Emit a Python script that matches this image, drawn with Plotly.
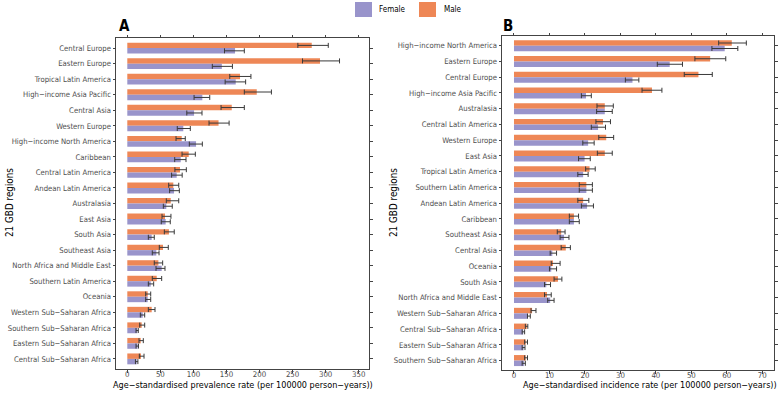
import plotly.graph_objects as go

# ---------------- Panel A: prevalence ----------------
regions_a = ["Central Europe", "Eastern Europe", "Tropical Latin America", "High−income Asia Pacific",
             "Central Asia", "Western Europe", "High−income North America", "Caribbean",
             "Central Latin America", "Andean Latin America", "Australasia", "East Asia", "South Asia",
             "Southeast Asia", "North Africa and Middle East", "Southern Latin America", "Oceania",
             "Western Sub−Saharan Africa", "Southern Sub−Saharan Africa", "Eastern Sub−Saharan Africa",
             "Central Sub−Saharan Africa"]
male_a = [279, 291.5, 170.5, 195.8, 158, 138, 82.3, 92.9, 79.7, 69.6, 65.7, 57, 63, 54, 47, 44.5, 30.9, 36.9, 21.8, 20.3, 20.7]
male_a_lo = [258, 265, 155, 177, 141.8, 123.6, 73.7, 82.8, 72, 62.6, 59, 52.5, 56, 48.4, 40.8, 37.8, 27.8, 31.8, 18.8, 17.7, 18.2]
male_a_hi = [304, 321, 187, 218, 177, 154, 87.7, 102.9, 89.3, 77.8, 77.8, 66, 71, 62, 53.5, 52, 35.4, 41.9, 26.3, 24.2, 25.3]
female_a = [163, 143, 164, 113.5, 101, 84.7, 104, 80.8, 74.7, 70.7, 59, 58, 36.9, 43.9, 52, 35.4, 30.9, 23.3, 15.1, 15.6, 14.2]
female_a_lo = [147, 128.6, 148, 101, 90, 75.6, 93.8, 71.7, 67, 64, 54.5, 51.4, 31.8, 37.8, 43.4, 31.8, 27.8, 19.7, 13.2, 13.2, 12.3]
female_a_hi = [177, 159, 179, 124.7, 113, 95.3, 113.5, 88.8, 83, 78.7, 68, 65, 40.8, 48, 57, 39.9, 35.4, 26.3, 16.6, 17, 16]

# ---------------- Panel B: incidence ----------------
regions_b = ["High−income North America", "Eastern Europe", "Central Europe", "High−income Asia Pacific",
             "Australasia", "Central Latin America", "Western Europe", "East Asia", "Tropical Latin America",
             "Southern Latin America", "Andean Latin America", "Caribbean", "Southeast Asia", "Central Asia",
             "Oceania", "South Asia", "North Africa and Middle East", "Western Sub−Saharan Africa",
             "Central Sub−Saharan Africa", "Eastern Sub−Saharan Africa", "Southern Sub−Saharan Africa"]
male_b = [61.4, 55.3, 52, 38.9, 25.6, 25.1, 26, 25.6, 21.3, 20.4, 19.5, 16.9, 13.3, 14.6, 11, 12.4, 9.3, 5.1, 3.6, 3.3, 3.3]
male_b_lo = [57.7, 51, 48, 36.1, 23.4, 23.1, 23.9, 23.5, 20.2, 18.4, 18, 15.6, 12.2, 13.3, 10.5, 11.3, 8.6, 4.8, 3.2, 3.0, 3.0]
male_b_hi = [65.5, 59.7, 55.9, 41.7, 28, 27.2, 28.1, 27.7, 22.9, 22.1, 21.1, 18.2, 14.4, 15.9, 13, 13.5, 10.5, 6.2, 3.9, 3.8, 3.8]
female_b = [59.4, 43.9, 33.4, 20.3, 25.6, 23.7, 20.9, 19.9, 19.5, 20.4, 20.6, 16.9, 14.1, 10.8, 10.5, 9.1, 10.2, 3.9, 2.6, 2.7, 2.8]
female_b_lo = [55.8, 40.4, 31.4, 19, 23.3, 21.8, 19.4, 18.2, 18, 18.4, 19, 15.6, 13, 10.2, 10, 8.6, 9.5, 3.8, 2.3, 2.3, 2.3]
female_b_hi = [63.1, 47.5, 35.2, 21.8, 27.7, 25.8, 22.6, 21.5, 20.9, 22.1, 22.4, 18.4, 15.5, 12, 12, 10.3, 11.3, 4.6, 3.0, 3.1, 3.2]

ticks_a = [0, 50, 100, 150, 200, 250, 300, 350]
ticks_b = [0, 10, 20, 30, 40, 50, 60, 70]

MALE = "#EE8756"
FEMALE = "#9994CB"
ERR = "#3a3a3a"
FONT = "DejaVu Sans Condensed, Liberation Sans, Arial, sans-serif"

fig = go.Figure()


def add_pair(regions, m, mlo, mhi, f, flo, fhi, xa, ya):
    fig.add_trace(go.Bar(
        y=regions, x=m, orientation="h", name="Male", marker_color=MALE, marker_line_width=0,
        error_x=dict(type="data", array=[h - v for h, v in zip(mhi, m)],
                     arrayminus=[v - l for l, v in zip(mlo, m)],
                     color=ERR, thickness=1, width=2.5),
        xaxis=xa, yaxis=ya, showlegend=False))
    fig.add_trace(go.Bar(
        y=regions, x=f, orientation="h", name="Female", marker_color=FEMALE, marker_line_width=0,
        error_x=dict(type="data", array=[h - v for h, v in zip(fhi, f)],
                     arrayminus=[v - l for l, v in zip(flo, f)],
                     color=ERR, thickness=1, width=2.5),
        xaxis=xa, yaxis=ya, showlegend=False))


add_pair(regions_a, male_a, male_a_lo, male_a_hi, female_a, female_a_lo, female_a_hi, "x", "y")
add_pair(regions_b, male_b, male_b_lo, male_b_hi, female_b, female_b_lo, female_b_hi, "x2", "y2")

W, H = 778, 393


def px(x):
    return x / W


def py(y):
    return 1 - y / H


axis_common = dict(showline=True, mirror="ticks", linecolor="#444", linewidth=1, showgrid=False,
                   zeroline=False, ticks="outside", ticklen=2.5, tickcolor="#444", automargin=False)
yfont = dict(family=FONT, size=7.7, color="#4d4d4d")
xfont = dict(family=FONT, size=7.8, color="#4d4d4d")

fig.update_layout(
    template="none",
    width=W, height=H, margin=dict(l=0, r=0, t=0, b=0, autoexpand=False),
    paper_bgcolor="white", plot_bgcolor="white",
    barmode="group", bargap=0.3, bargroupgap=0,
    font=dict(family=FONT),
    xaxis=dict(domain=[px(116), px(369)], anchor="y", range=[-17.1, 365.6], tickvals=ticks_a,
               tickfont=xfont, ticklabelstandoff=-5, **axis_common),
    yaxis=dict(domain=[py(369), py(38)], anchor="x", categoryorder="array", categoryarray=regions_a,
               range=[20.65, -0.65], tickfont=yfont, **axis_common),
    xaxis2=dict(domain=[px(502), px(774)], anchor="y2", range=[-3.38, 73.3], tickvals=ticks_b,
                tickfont=xfont, ticklabelstandoff=-5, **axis_common),
    yaxis2=dict(domain=[py(370), py(36)], anchor="x2", categoryorder="array", categoryarray=regions_b,
                range=[20.6, -0.62], tickfont=yfont, **axis_common),
)

ann = []
title_font = dict(family=FONT, size=9, color="black")
ann.append(dict(text="Age−standardised prevalence rate (per 100000 person−years))", x=px(243), y=py(384.5),
                xref="paper", yref="paper", showarrow=False, font=title_font, xanchor="center", yanchor="middle"))
ann.append(dict(text="Age−standardised incidence rate (per 100000 person−years))", x=px(650), y=py(384.5),
                xref="paper", yref="paper", showarrow=False, font=title_font, xanchor="center", yanchor="middle"))
ytitle_font = dict(family=FONT, size=9.8, color="black")
ann.append(dict(text="21 GBD regions", x=px(9), y=py(203), xref="paper", yref="paper", showarrow=False,
                font=ytitle_font, textangle=-90, xanchor="center", yanchor="middle"))
ann.append(dict(text="21 GBD regions", x=px(393), y=py(203), xref="paper", yref="paper", showarrow=False,
                font=ytitle_font, textangle=-90, xanchor="center", yanchor="middle"))
ann.append(dict(text="<b>A</b>", x=px(124), y=py(25.5), xref="paper", yref="paper", showarrow=False,
                font=dict(family=FONT, size=15, color="black"), xanchor="center", yanchor="middle"))
ann.append(dict(text="<b>B</b>", x=px(508), y=py(25.5), xref="paper", yref="paper", showarrow=False,
                font=dict(family=FONT, size=15, color="black"), xanchor="center", yanchor="middle"))
# legend labels
ann.append(dict(text="Female", x=px(377), y=py(9.5), xref="paper", yref="paper", showarrow=False,
                font=dict(family=FONT, size=8, color="black"), xanchor="left", yanchor="middle"))
ann.append(dict(text="Male", x=px(442), y=py(9.5), xref="paper", yref="paper", showarrow=False,
                font=dict(family=FONT, size=8, color="black"), xanchor="left", yanchor="middle"))
fig.update_layout(annotations=ann)

# legend swatches
fig.add_shape(type="rect", xref="paper", yref="paper", x0=px(355), x1=px(372), y0=py(17), y1=py(2),
              fillcolor=FEMALE, line_width=0)
fig.add_shape(type="rect", xref="paper", yref="paper", x0=px(419), x1=px(436), y0=py(17), y1=py(2),
              fillcolor=MALE, line_width=0)

fig.write_html("out.html", config={"displayModeBar": False},
               post_script="document.body.style.margin='0';")
